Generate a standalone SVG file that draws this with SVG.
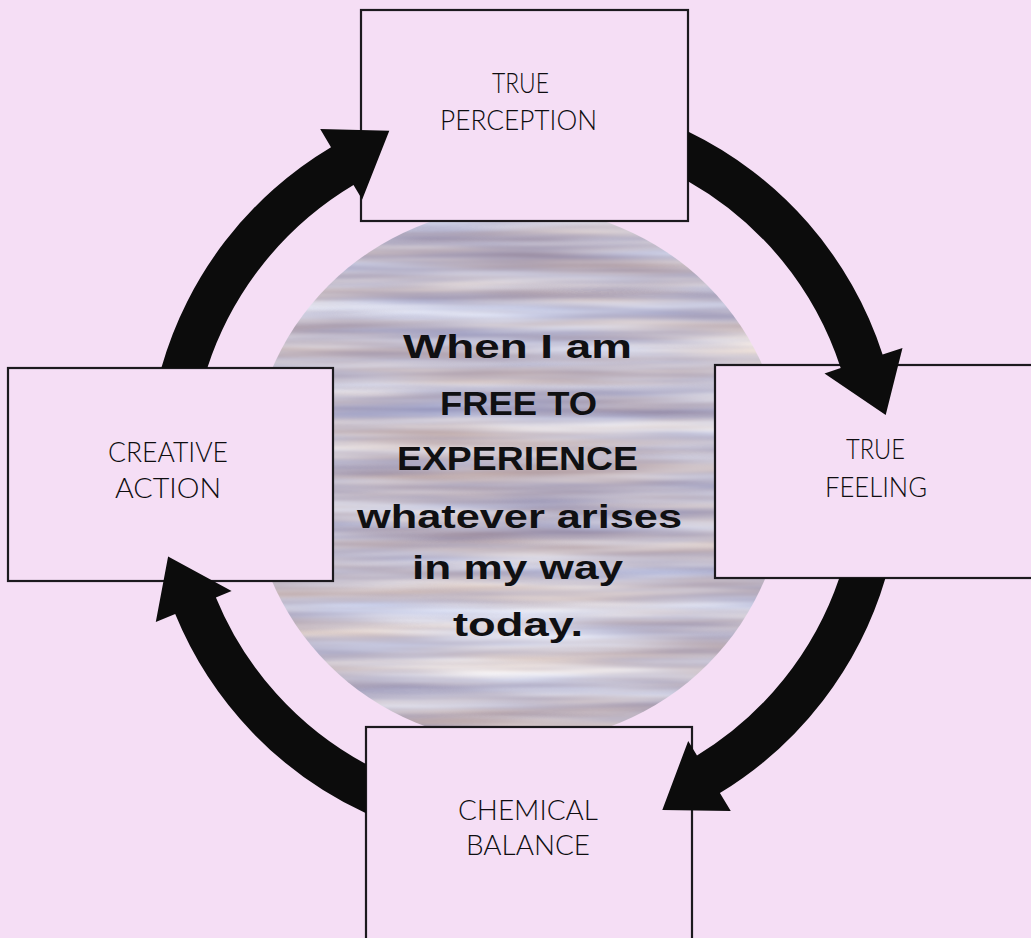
<svg xmlns="http://www.w3.org/2000/svg" width="1031" height="938" viewBox="0 0 1031 938">
  <defs>
    <style>
      .box { fill: #f5def5; stroke: #1c1a1e; stroke-width: 2.2; }
      .label { font-family: "Lato", "Liberation Sans", sans-serif; font-weight: 300; font-size: 28px; fill: #0e0d10; text-anchor: middle; }
      .core { font-family: "Liberation Sans", Arial, sans-serif; font-weight: bold; font-size: 33px; fill: #101012; text-anchor: middle; }
      .arrow { fill: #0c0c0c; stroke: none; }
    </style>
    <!-- muted horizontal streaks for the central disc -->
    <filter id="streaks" x="0" y="0" width="100%" height="100%" color-interpolation-filters="sRGB">
      <feTurbulence type="fractalNoise" baseFrequency="0.003 0.05" numOctaves="3" seed="11" result="noise"/>
      <feColorMatrix in="noise" type="matrix"
        values="0.45 0.12 0 0 0.48
                0.50 0.00 0 0 0.49
                0.40 -0.18 0 0 0.69
                0 0 0 0 1" result="tint"/>
      <feComposite in="tint" in2="SourceGraphic" operator="in"/>
    </filter>
  </defs>

  <!-- paper background -->
  <rect x="0" y="0" width="1031" height="938" fill="#f5def5"/>

  <!-- central disc with the statement -->
  <g id="centre">
    <circle cx="518" cy="475" r="268" fill="#c6b8cc" filter="url(#streaks)"/>
    <text class="core" x="517.5" y="358" textLength="229" lengthAdjust="spacingAndGlyphs">When I am</text>
    <text class="core" x="518.5" y="415" textLength="157" lengthAdjust="spacingAndGlyphs">FREE TO</text>
    <text class="core" x="517.5" y="470" textLength="241" lengthAdjust="spacingAndGlyphs">EXPERIENCE</text>
    <text class="core" x="519.5" y="528" textLength="325" lengthAdjust="spacingAndGlyphs">whatever arises</text>
    <text class="core" x="517.5" y="579" textLength="211" lengthAdjust="spacingAndGlyphs">in my way</text>
    <text class="core" x="518" y="636" textLength="130" lengthAdjust="spacingAndGlyphs">today.</text>
  </g>

  <!-- the four stages -->
  <g id="true-perception">
    <rect class="box" x="361" y="10" width="327" height="211"/>
    <text class="label" x="520.5" y="93" textLength="57" lengthAdjust="spacingAndGlyphs">TRUE</text>
    <text class="label" x="518.5" y="130" textLength="157" lengthAdjust="spacingAndGlyphs">PERCEPTION</text>
  </g>
  <g id="true-feeling">
    <rect class="box" x="715" y="365" width="340" height="213"/>
    <text class="label" x="875.5" y="459" textLength="59" lengthAdjust="spacingAndGlyphs">TRUE</text>
    <text class="label" x="876" y="497" textLength="102" lengthAdjust="spacingAndGlyphs">FEELING</text>
  </g>
  <g id="chemical-balance">
    <rect class="box" x="366" y="727" width="326" height="230"/>
    <text class="label" x="528" y="820" textLength="140" lengthAdjust="spacingAndGlyphs">CHEMICAL</text>
    <text class="label" x="528" y="855" textLength="124" lengthAdjust="spacingAndGlyphs">BALANCE</text>
  </g>
  <g id="creative-action">
    <rect class="box" x="8" y="368" width="325" height="213"/>
    <text class="label" x="168" y="462" textLength="120" lengthAdjust="spacingAndGlyphs">CREATIVE</text>
    <text class="label" x="168" y="498" textLength="106" lengthAdjust="spacingAndGlyphs">ACTION</text>
  </g>

  <!-- curved arrows running clockwise round the cycle -->
  <g id="connectors">
    <path class="arrow" d="M 688 131.5 A 377 377 0 0 1 882.6 354.5 L 902.5 348 L 885.7 415 L 824.5 373.4 L 840.7 368.1 A 333 333 0 0 0 688 181.2 Z"/>
    <path class="arrow" d="M 885.5 578 A 377 377 0 0 1 719.9 793.1 L 730.8 811.1 L 662.3 809.9 L 688.2 741 L 697 755.5 A 333 333 0 0 0 839.3 578 Z"/>
    <path class="arrow" d="M 366 813.3 A 377 377 0 0 1 175.2 614.1 L 155.8 622 L 168.1 556.4 L 231.6 590.9 L 215.9 597.4 A 333 333 0 0 0 366 764.1 Z"/>
    <path class="arrow" d="M 207.3 368 A 333 333 0 0 1 353.5 185 L 362.2 199.6 L 389.3 130.7 L 320.2 129.1 L 331 147.2 A 377 377 0 0 0 161.3 368 Z"/>
  </g>
</svg>
